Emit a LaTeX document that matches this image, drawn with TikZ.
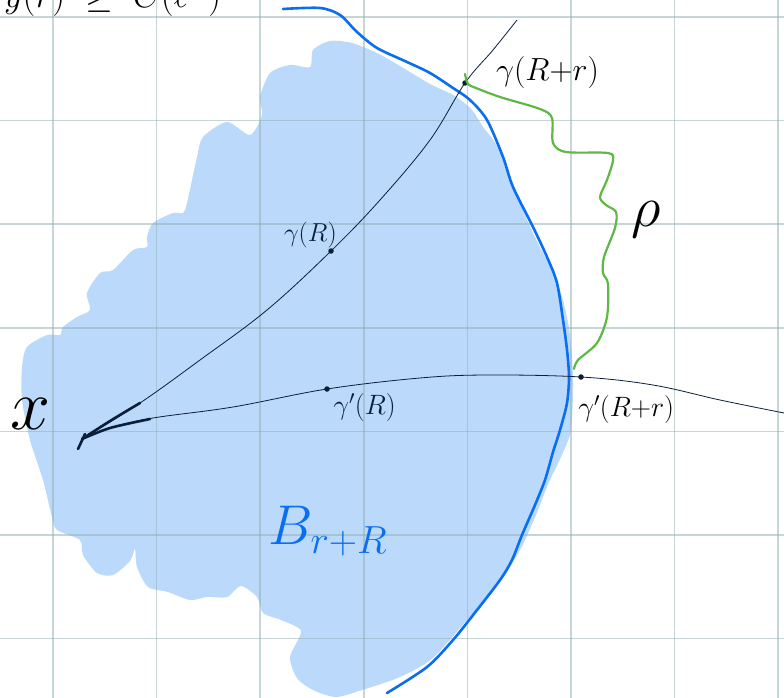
\RequirePackage{fix-cm}
\documentclass[tikz,border=0pt]{standalone}
\usepackage{amsmath}
\usepackage{xcolor}
\usepackage{tikz}
\usetikzlibrary{positioning}
\definecolor{ink}{HTML}{0B1F3A}
\definecolor{ball}{HTML}{BBD9FB}
\definecolor{rim}{HTML}{0A6EF0}
\definecolor{leaf}{HTML}{5DB944}
\definecolor{paper}{HTML}{8FAFB0}

\begin{document}
\begin{tikzpicture}[
  x=1pt, y=-1pt,
  gridline/.style={draw=paper, line width=1.5pt, opacity=0.5},
  geo/.style={draw=ink, line width=0.8pt},
  geoheavy/.style={draw=ink, line width=2.6pt, line cap=round},
  rimline/.style={draw=rim, line width=2.6pt, line cap=round, line join=round},
  detour/.style={draw=leaf, line width=2.2pt, line cap=round, line join=round},
  dot/.style={circle, fill=ink, inner sep=0pt, minimum size=5.5pt},
  tag/.style={text=ink, inner sep=0pt, font=\fontsize{28}{30}\selectfont},
  bigtag/.style={text=black, inner sep=0pt}
]
\useasboundingbox (0,0) rectangle (784,698);
\fill[white] (0,0) rectangle (784,698);
% the ball
\fill[ball] plot[smooth cycle, tension=0.45] coordinates {
  (313,50) (330,41) (352,43) (377,53) (400,66) (430,84) (455,96) (472,110)
  (483,127) (497,146) (513,187) (533,233) (553,273) (563,300) (570,335)
  (573,380) (571,430) (561,457) (549,482) (536,515) (520,550) (500,582)
  (467,620) (433,658) (400,677) (362,690) (336,697) (313,690) (297,678)
  (290,657) (301,631) (281,620) (263,613) (257,597) (241,586) (227,597)
  (207,597) (190,600) (168,592) (148,587) (137,567) (135,549) (130,561)
  (113,575) (97,573) (83,555) (80,540) (57,530) (52,517) (43,480) (30,440)
  (22,400) (22,367) (27,347) (47,335) (60,335) (63,327) (77,317) (90,310)
  (87,293) (100,273) (113,270) (133,250) (147,247) (147,237) (153,223)
  (173,213) (183,213) (187,203) (197,157) (203,137) (227,122) (250,135)
  (262,115) (260,97) (270,73) (290,65) (310,67)};
% squared paper
\foreach \gx in {53,156.6,...,780} \draw[gridline] (\gx,0) -- (\gx,698);
\foreach \gy in {17,120.6,...,640} \draw[gridline] (0,\gy) -- (784,\gy);

% points
\coordinate (x0) at (82,439);
\node[dot] (gR) at (331,251) {};
\node[dot] (gRr) at (465,83) {};
\node[dot] (gpR) at (327,389) {};
\node[dot] (gpRr) at (581,377) {};
\coordinate (gEnd) at (517,20);
\coordinate (gpEnd) at (784,413);

% boundary of the ball
\draw[rimline] plot[smooth, tension=0.5] coordinates {
  (283,9) (320,8) (340,15) (357,32) (377,48) (407,62) (430,73) (453,88)
  (470,100) (487,120) (503,157) (513,187) (533,227) (547,257) (557,283)
  (563,320) (567,350) (569,377) (567,403) (560,430) (553,452) (545,480)
  (535,505) (522,535) (512,560) (500,580) (477,610) (453,640) (427,667)
  (387,693)};

% geodesics
\draw[geo] plot[smooth, tension=0.6] coordinates {
  (x0) (140,403) (200,360) (267,310) (gR) (380,200) (430,140) (gRr) (493,50) (gEnd)};
\draw[geo] plot[smooth, tension=0.6] coordinates {
  (x0) (110,428) (153,418) (233,407) (gpR) (420,378) (487,375) (gpRr) (653,385) (720,400) (gpEnd)};
\draw[geoheavy] plot[smooth] coordinates {(x0) (110,421) (140,403)};
\draw[geoheavy] plot[smooth] coordinates {(x0) (110,428) (150,419)};
\draw[geoheavy] (78,449) -- (85,434);

% the path rho
\draw[detour] plot[smooth, tension=0.5] coordinates {
  (465,74) (468,84) (476,88) (500,97) (540,109) (552,118) (553,143) (566,152)
  (608,153) (613,160) (607,180) (600,197) (606,205) (616,212) (615,228)
  (604,257) (603,273) (608,284) (607,317) (597,343) (578,360) (574,369)};

% labels
\node[tag, font=\fontsize{26}{28}\selectfont, above left=1pt and -8pt of gR] (lgR) {$\gamma(R)$};
\node[tag, text=black, font=\fontsize{32}{34}\selectfont, right=28pt of gRr, yshift=10pt] (lgRr) {$\gamma(R{+}r)$};
\node[tag, below right=2pt and 4pt of gpR] (lgpR) {$\gamma'(R)$};
\node[tag, text=black, below right=16pt and -5pt of gpRr] (lgpRr) {$\gamma'(R{+}r)$};
\node[bigtag, font=\fontsize{72}{76}\selectfont] (lx) at (31,414) {$x$};
\node[bigtag, font=\fontsize{58}{62}\selectfont] (lrho) at (646,220) {$\rho$};
\node[bigtag, text=rim, font=\fontsize{56}{60}\selectfont] (lball) at (328,531) {$B_{r+R}$};
\node[bigtag, anchor=base west, font=\fontsize{36}{40}\selectfont] (lhead) at (4,8) {$y(r) \;\geq\; C(\ell\;\;)$};
\end{tikzpicture}
\end{document}
